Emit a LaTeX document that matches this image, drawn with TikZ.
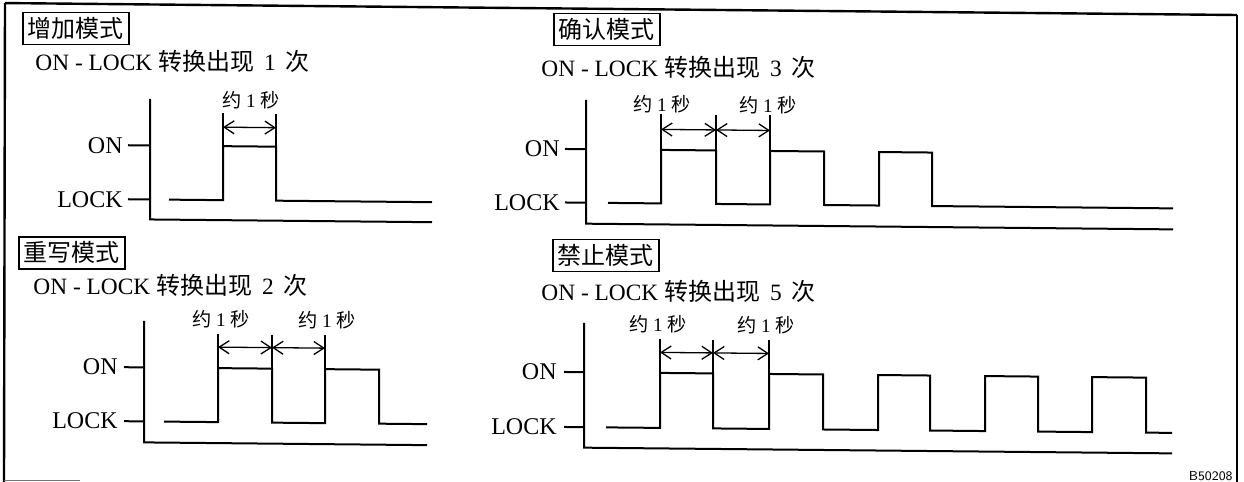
\documentclass[tikz,border=0pt]{standalone}
\usepackage{fontspec}
\setmainfont{Liberation Serif}
\newfontfamily\cjk{Noto Sans CJK SC}
\usetikzlibrary{arrows.meta}
\newcommand\zhm[1]{{\cjk\fontsize{12}{13}\selectfont #1}}
\newcommand\zhs[1]{{\cjk #1}}
\newcommand\capline[1]{ON - LOCK \zhm{转换出现}\hspace{5pt}#1\hspace{5pt}\zhm{次}}
\begin{document}
\begin{tikzpicture}[x=0.5pt,y=-0.5pt,
  sig/.style={line width=1pt, line join=miter},
  axis/.style={line width=1pt},
  dim/.style={line width=0.65pt},
  dimarrow/.style={line width=0.65pt,{Straight Barb[length=5pt,width=6.5pt]}-{Straight Barb[length=5pt,width=6.5pt]}},
  title/.style={draw, line width=0.75pt, anchor=west, inner xsep=2.5pt, inner ysep=2pt,
    text height=10.5pt, text depth=1.5pt, font=\cjk\fontsize{12}{12}\selectfont},
  caption/.style={anchor=base west, inner sep=0, font=\fontsize{11.7}{13}\selectfont},
  lvl/.style={anchor=east, inner sep=0, font=\fontsize{12}{13}\selectfont},
  dur/.style={inner sep=0, font=\fontsize{9.6}{10}\selectfont},
  frame/.style={line width=1.2pt}
]
\useasboundingbox (0,0) rectangle (1244,482);
\fill[white] (0,0) rectangle (1244,482);
% outer frame
\coordinate (fl1) at (5,3);
\coordinate (fl2) at (4,482);
\coordinate (fr1) at (1237,15);
\coordinate (fr2) at (1237,482);
\draw[frame] (fl1) -- (fl2);
\draw[frame] (fr1) -- (fr2);
\coordinate (fb1) at (4,480.5);
\coordinate (fb2) at (80,480.5);
\draw[line width=0.8pt, black!55] (fb1) -- (fb2);
\node[anchor=south east, inner sep=0, font=\sffamily\fontsize{6.5}{7}\selectfont] (figid) at (1233,481) {B50208};

\begin{scope}[cm={1,-0.0097,0,1,(0,0)}]
\coordinate (ft1) at (5,3);
\coordinate (ft2) at (1237,3);
\draw[frame] (ft1) -- (ft2);

% ---------- Panel 1 ----------
\node[title] (t1) at (22,28.3) {增加模式};
\node[caption] (c1) at (35,70.3) {\capline{1}};
\node[lvl] (on1) at (123,144) {ON};
\node[lvl] (lk1) at (123,198) {LOCK};
\draw[axis] (150,97.5) -- (150,218) -- (432,218);
\draw[axis] (128,144) -- (150,144);
\draw[axis] (128,198) -- (150,198);
\draw[sig] (169,198) -- (223,198) -- (223,144) -- (276,144) -- (276,198) -- (432,198);
\draw[dim] (223,111) -- (223,144);
\draw[dim] (276,111) -- (276,144);
\draw[dimarrow] (223,125) -- (276,125);
\node[dur] (d1) at (251,97.6) {\zhs{约} 1 \zhs{秒}};

% ---------- Panel 2 ----------
\node[title] (t2) at (18,252.8) {重写模式};
\node[caption] (c2) at (33,294) {\capline{2}};
\node[lvl] (on2) at (118,366) {ON};
\node[lvl] (lk2) at (118,420) {LOCK};
\draw[axis] (144,319.6) -- (144,441) -- (427,441);
\draw[axis] (124,366) -- (144,366);
\draw[axis] (124,420) -- (144,420);
\draw[sig] (164,420) -- (218,420) -- (218,366) -- (272,366) -- (272,420) -- (325,420)
  -- (325,366) -- (379,366) -- (379,420) -- (427,420);
\draw[dim] (218,332) -- (218,366);
\draw[dim] (272,332) -- (272,366);
\draw[dim] (325,332) -- (325,366);
\draw[dimarrow] (218,345) -- (272,345);
\draw[dimarrow] (272,345) -- (325,345);
\node[dur] (d2a) at (221,317) {\zhs{约} 1 \zhs{秒}};
\node[dur] (d2b) at (327,317) {\zhs{约} 1 \zhs{秒}};

% ---------- Panel 3 ----------
\node[title] (t3) at (553,24.1) {确认模式};
\node[caption] (c3) at (541,71.4) {\capline{3}};
\node[lvl] (on3) at (560,143.5) {ON};
\node[lvl] (lk3) at (560,197) {LOCK};
\draw[axis] (586,94.3) -- (586,218) -- (1173,218);
\draw[axis] (565,143.5) -- (586,143.5);
\draw[axis] (565,197) -- (586,197);
\draw[sig] (608,197) -- (661,197) -- (661,143.5) -- (716,143.5) -- (716,197) -- (770,197)
  -- (770,143.5) -- (824,143.5) -- (824,197) -- (879,197) -- (879,143.5) -- (932,143.5)
  -- (932,197) -- (1173,197);
\draw[dim] (661,108) -- (661,143.5);
\draw[dim] (716,108) -- (716,143.5);
\draw[dim] (770,108) -- (770,143.5);
\draw[dimarrow] (661,123) -- (716,123);
\draw[dimarrow] (716,123) -- (770,123);
\node[dur] (d3a) at (662,97.5) {\zhs{约} 1 \zhs{秒}};
\node[dur] (d3b) at (768,97.5) {\zhs{约} 1 \zhs{秒}};

% ---------- Panel 4 ----------
\node[title] (t4) at (552,250.1) {禁止模式};
\node[caption] (c4) at (541,294.8) {\capline{5}};
\node[lvl] (on4) at (557,366.5) {ON};
\node[lvl] (lk4) at (557,421.5) {LOCK};
\draw[axis] (584,317.3) -- (584,442) -- (1172,442);
\draw[axis] (564,366.5) -- (584,366.5);
\draw[axis] (564,421.5) -- (584,421.5);
\draw[sig] (606,421.5) -- (660,421.5) -- (660,366.5) -- (713,366.5) -- (713,421.5)
  -- (769,421.5) -- (769,366.5) -- (823,366.5) -- (823,421.5)
  -- (878,421.5) -- (878,366.5) -- (930,366.5) -- (930,421.5)
  -- (985,421.5) -- (985,366.5) -- (1038,366.5) -- (1038,421.5)
  -- (1092,421.5) -- (1092,366.5) -- (1146,366.5) -- (1146,421.5) -- (1172,421.5);
\draw[dim] (660,332.6) -- (660,366.5);
\draw[dim] (713,332.6) -- (713,366.5);
\draw[dim] (769,332.6) -- (769,366.5);
\draw[dimarrow] (660,346) -- (713,346);
\draw[dimarrow] (713,346) -- (769,346);
\node[dur] (d4a) at (658,318) {\zhs{约} 1 \zhs{秒}};
\node[dur] (d4b) at (766,318) {\zhs{约} 1 \zhs{秒}};
\end{scope}
\end{tikzpicture}
\end{document}
